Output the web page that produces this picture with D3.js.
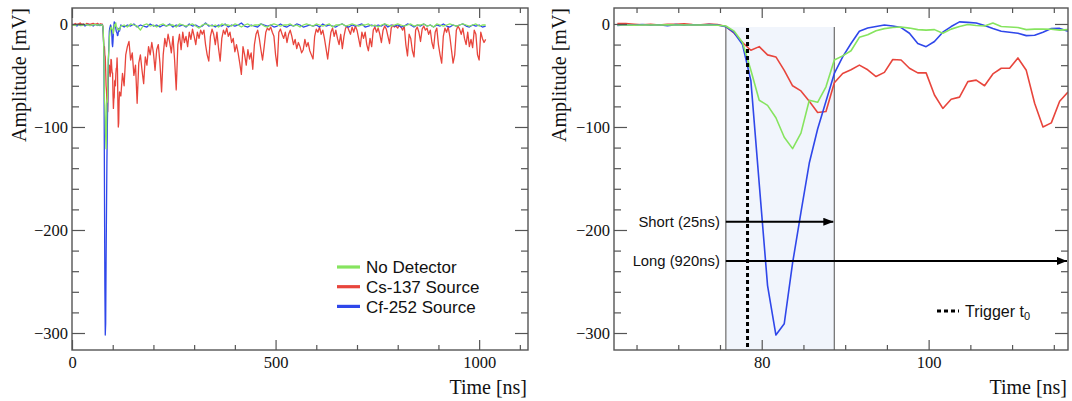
<!DOCTYPE html>
<html>
<head>
<meta charset="utf-8">
<script src="https://cdn.jsdelivr.net/npm/d3@7"></script>
<style>
  html, body { margin: 0; padding: 0; background: #fff; }
  svg { display: block; }
  .tick text { font-family: "Liberation Serif", "Times New Roman", serif; font-size: 16.5px; fill: #111; }
  .tick line { stroke: #555; stroke-width: 1.2; }
</style>
</head>
<body>
<svg id="chart" width="1072" height="401"></svg>
<script>
(function (d3) {
    'use strict';

    // series names / colours (legend order)
    var seriesNames = ['No Detector', 'Cs-137 Source', 'Cf-252 Source'];
    var seriesColors = ['#86e45f', '#e8453c', '#2f47ea'];

    // coarse baseline before the pulse, 0..60 ns, 4 ns step
    var preStep = 4;
    var greenPre = [-1, -1, -1.5, -0.5, -1, -1, -1.5, -1, -0.5, -1, -1, -1.5, -1, -1, -0.5, -1];
    var redPre   = [0, -1, 0.5, -0.5, 0, 1, -0.5, 0, -1, 0.5, 0, -0.5, 0, 0.5, -0.3, 0];
    var bluePre  = [-1.5, -0.5, -1, -2, -0.5, -1.5, -1, -0.5, -2, -1, -0.5, -1.5, -1, -2, -0.5, -1];

    // 1 ns samples around the pulse, 62.7..116.7 ns (right panel)
    var detailStart = 62.7;
    var greenDetail = [-1, -1, -1.2, -1, -1, -1, -0.8, -1, -1, -1, -1, -1, -1.2,
        -2, -7, -18, -45, -74, -79, -91, -110, -121, -106, -74, -76, -61, -35, -31, -26,
        -13, -10.5, -6.5, -4.5, -3.5, -3, -4, -5.5, -6, -5.5, -9, -5, -2.5, -0.5, -1.5,
        -2, 1, -2.5, -3, -3.5, -5.5, -5, -5, -5.2, -6, -5.5];
    var redDetail = [0.5, 0.3, -0.3, -0.8, -0.2, -1, -0.4, -0.3, 0.2, -0.6, -0.8, 0, -0.5,
        -2.5, -9, -18, -25.5, -22, -30, -32, -45, -60, -65, -75, -86, -85, -57, -48, -44.5,
        -40, -44.5, -51, -47, -34.5, -35, -43, -47.5, -47.5, -69, -82, -73, -71, -56, -54.5,
        -60, -48.5, -43, -43, -33, -45, -77, -100, -96, -75, -66];
    var blueDetail = [-1.5, -0.8, -1.2, -0.5, -1.3, -0.7, -1.6, -0.6, -1.2, -0.8, -1, -0.6, -1,
        -2.6, -8.5, -20, -55, -155, -254, -302, -291, -232, -183, -135, -102, -75, -48, -32, -19,
        -7, -4, -2.5, -1, -2, -3.5, -9, -19, -22, -17, -8, -2.5, 2, 1.5, 1, -1.5, -4.5, -7,
        -8, -9, -11.3, -11, -8, -4.5, -4.3, -7];

    // long tail, 120..1016 ns
    var tailStart = 120;
    var redTailStep = 4;
    var redTail = [
        -70, -48, -60, -30, -22, -17, -35, -28, -50, -40, -77, -38, -30, -45, -58, -32, -40, -22, -30, -18, -28, -45, -25, -20, -38,
        -66, -30, -14, -22, -10, -18, -28, -12, -35, -64, -20, -10, -25, -8, -18, -12, -22, -8, -15, -5, -12, -20, -8, -14, -6,
        -10, -6, -20, -30, -36, -12, -5, -10, -20, -8, -24, -36, -14, -6, -10, -4, -12, -8, -18, -14, -27, -20, -28, -38, -49,
        -22, -30, -40, -25, -34, -28, -44, -20, -10, -6, -14, -25, -35, -22, -8, -4, -6, -3, -8, -12, -30, -41, -8, -5, -10,
        -14, -8, -18, -10, -6, -12, -20, -15, -24, -18, -22, -28, -25, -15, -22, -18, -26, -30, -34, -12, -5, -8, -3, -10, -6,
        -14, -24, -34, -20, -8, -4, -12, -6, -14, -20, -10, -24, -12, -4, -2, -6, -10, -3, -8, -2, -6, -14, -22, -8, -14,
        -8, -20, -26, -14, -22, -6, -3, -8, -4, -10, -18, -6, -2, -5, -12, -19, -4, -1, -3, -2, -4, -1, -3, -6, -2,
        -20, -31, -10, -14, -26, -32, -6, -3, -8, -17, -5, -2, -6, -4, -10, -6, -18, -24, -8, -4, -20, -30, -38, -12, -4,
        -8, -3, -12, -25, -38, -30, -6, -2, -5, -10, -4, -14, -20, -8, -22, -15, -23, -6, -10, -30, -35, -8, -14, -18, -15
    ];
    var flatTailStep = 8;
    var greenTail = [
        -2, -1, -3, 0, -1, -2, -6, -1, 0, -2, -1, -3, -1, 0, -2, -1, -1, -3, 0, -1,
        -2, -1, 0, -2, -4, -1, 0, -1, -2, -1, -3, 0, -1, -1, -2, 0, -1, -3, -1, 0,
        -2, -1, -1, 0, -2, -3, -1, 0, -1, -2, -1, -1, 0, -2, -1, -3, -1, 0, -1, -2,
        0, -1, -2, -1, 0, -3, -1, -1, 0, -2, -1, 0, -1, -2, -1, -1, 0, -2, -1, -3,
        -1, 0, -1, -2, -1, 0, -1, -2, -1, 0, -2, -1, -1, 0, -2, -1, -3, 0, -1, -2,
        -1, 0, -1, -2, -1, 0, -1, -2, -1, 0, -2, -1, -1
    ];
    var blueTail = [
        -1, -3, -1, -2, 0, -3, -1, -2, -3, 0, -2, -1, -3, -1, -2, 0, -3, -1, -2, -1,
        -3, 0, -2, -1, -3, -2, 1, -2, -1, -3, -1, -2, 0, -3, -1, -2, -1, 1, -2, -3,
        -1, -2, -3, 0, -1, -2, -1, -3, -2, 0, -2, -3, -1, -2, 0, -1, -3, -2, -1, -2,
        -1, -3, 0, -2, -1, -2, -3, -1, 0, -2, -3, -1, -2, -1, 0, -3, -2, -1, -2, -1,
        -2, 0, -3, -1, -2, -1, -3, -2, 0, -1, -3, -1, -2, 0, -2, -1, -3, -1, -2, 0,
        -2, -3, -1, -2, -1, 0, -2, -3, -1, -2, -1, -3, -2
    ];

    // axis ticks
    var yMajor = [0, -100, -200, -300];
    var yMinor = [-20, -40, -60, -80, -120, -140, -160, -180, -220, -240, -260, -280];
    var xLeftMajor = [0, 500, 1000];
    var xLeftMinor = [100, 200, 300, 400, 600, 700, 800, 900, 1100];
    var xRightMajor = [80, 100];
    var xRightMinor = [65, 70, 75, 85, 90, 95, 105, 110, 115];

    // integration windows / trigger
    var gateStart = 75.7, shortEnd = 88.7, longEnd = 116.7, triggerT = 78.3;
    var shortLevel = -192, longLevel = -230;

    function buildSeries(pre, detail, tail, tailStep) {
        var pts = [];
        pre.forEach(function (v, i) { pts.push([i * preStep, v]); });
        detail.forEach(function (v, i) { pts.push([detailStart + i, v]); });
        tail.forEach(function (v, i) { pts.push([tailStart + i * tailStep, v]); });
        return pts;
    }
    function detailSeries(detail) {
        return detail.map(function (v, i) { return [detailStart + i, v]; });
    }

    var wide = [
        buildSeries(greenPre, greenDetail, greenTail, flatTailStep),
        buildSeries(redPre, redDetail, redTail, redTailStep),
        buildSeries(bluePre, blueDetail, blueTail, flatTailStep)
    ];
    var zoomed = [detailSeries(greenDetail), detailSeries(redDetail), detailSeries(blueDetail)];
    var drawOrder = [1, 2, 0];

    var svg = d3.select('#chart');
    var top = 8, bottom = 350;
    var y = d3.scaleLinear().domain([-316.5, 15.5]).range([bottom, top]);
    var xL = d3.scaleLinear().domain([0, 1120]).range([72, 528]);
    var xR = d3.scaleLinear().domain([62.3, 116.7]).range([614, 1068]);

    var defs = svg.append('defs');
    defs.append('marker')
        .attr('id', 'arrowhead')
        .attr('viewBox', '0 0 10 8')
        .attr('refX', 10).attr('refY', 4)
        .attr('markerWidth', 10).attr('markerHeight', 8)
        .attr('markerUnits', 'userSpaceOnUse')
        .attr('orient', 'auto')
        .append('path').attr('d', 'M0,0 L10,4 L0,8 Z').attr('fill', '#000');

    function drawAxes(x, xMajor, xMinor, titleYx) {
        var g = svg.append('g');
        var x0 = x.range()[0], x1 = x.range()[1];

        // bottom + top ticks (inward)
        g.append('g').attr('transform', 'translate(0,' + bottom + ')')
            .call(d3.axisBottom(x).tickValues(xMinor).tickSize(-5).tickFormat(''));
        g.append('g').attr('transform', 'translate(0,' + bottom + ')')
            .call(d3.axisBottom(x).tickValues(xMajor).tickSize(-10).tickPadding(6).tickFormat(d3.format('d')));
        g.append('g').attr('transform', 'translate(0,' + top + ')')
            .call(d3.axisTop(x).tickValues(xMinor).tickSize(-5).tickFormat(''));
        g.append('g').attr('transform', 'translate(0,' + top + ')')
            .call(d3.axisTop(x).tickValues(xMajor).tickSize(-10).tickFormat(''));

        // left + right ticks (inward)
        g.append('g').attr('transform', 'translate(' + x0 + ',0)')
            .call(d3.axisLeft(y).tickValues(yMinor).tickSize(-7).tickFormat(''));
        g.append('g').attr('transform', 'translate(' + x0 + ',0)')
            .call(d3.axisLeft(y).tickValues(yMajor).tickSize(-13).tickPadding(4).tickFormat(d3.format('d')));
        g.append('g').attr('transform', 'translate(' + x1 + ',0)')
            .call(d3.axisRight(y).tickValues(yMinor).tickSize(-7).tickFormat(''));
        g.append('g').attr('transform', 'translate(' + x1 + ',0)')
            .call(d3.axisRight(y).tickValues(yMajor).tickSize(-13).tickFormat(''));

        g.selectAll('.domain').remove();

        g.append('rect')
            .attr('x', x0).attr('y', top)
            .attr('width', x1 - x0).attr('height', bottom - top)
            .attr('fill', 'none').attr('stroke', '#555').attr('stroke-width', 1.4);

        g.append('text')
            .attr('x', x1 - 1).attr('y', 394)
            .attr('text-anchor', 'end')
            .style('font-family', '"Liberation Serif", "Times New Roman", serif')
            .style('font-size', '20px').style('fill', '#111')
            .text('Time [ns]');

        g.append('text')
            .attr('transform', 'translate(' + titleYx + ',' + top + ') rotate(-90)')
            .attr('text-anchor', 'end')
            .style('font-family', '"Liberation Serif", "Times New Roman", serif')
            .style('font-size', '20px').style('fill', '#111')
            .text('Amplitude [mV]');
    }

    function clip(id, x) {
        defs.append('clipPath').attr('id', id)
            .append('rect')
            .attr('x', x.range()[0]).attr('y', top)
            .attr('width', x.range()[1] - x.range()[0]).attr('height', bottom - top);
    }
    clip('clipL', xL);
    clip('clipR', xR);

    // ---- left panel ----
    var lineL = d3.line().x(function (d) { return xL(d[0]); }).y(function (d) { return y(d[1]); });
    var gL = svg.append('g').attr('clip-path', 'url(#clipL)');
    drawOrder.forEach(function (k) {
        gL.append('path').datum(wide[k])
            .attr('fill', 'none')
            .attr('stroke', seriesColors[k])
            .attr('stroke-width', 1.3)
            .attr('stroke-linejoin', 'round')
            .attr('d', lineL);
    });
    drawAxes(xL, xLeftMajor, xLeftMinor, 26);

    // legend
    var legend = svg.append('g');
    seriesNames.forEach(function (name, i) {
        var ly = 267 + i * 19.7;
        legend.append('line')
            .attr('x1', 337).attr('x2', 360).attr('y1', ly).attr('y2', ly)
            .attr('stroke', seriesColors[i]).attr('stroke-width', 3.2);
        legend.append('text')
            .attr('x', 366).attr('y', ly).attr('dy', '0.36em')
            .style('font-family', '"Liberation Sans", Arial, sans-serif')
            .style('font-size', '17px').style('fill', '#111')
            .text(name);
    });

    // ---- right panel ----
    var gR = svg.append('g').attr('clip-path', 'url(#clipR)');
    gR.append('rect')
        .attr('x', xR(gateStart)).attr('y', y(-3))
        .attr('width', xR(shortEnd) - xR(gateStart))
        .attr('height', bottom - y(-3))
        .attr('fill', '#f1f5fc');
    [gateStart, shortEnd].forEach(function (t) {
        gR.append('line')
            .attr('x1', xR(t)).attr('x2', xR(t))
            .attr('y1', y(-3)).attr('y2', bottom)
            .attr('stroke', '#777').attr('stroke-width', 1.3);
    });

    var lineR = d3.line().x(function (d) { return xR(d[0]); }).y(function (d) { return y(d[1]); });
    drawOrder.forEach(function (k) {
        gR.append('path').datum(zoomed[k])
            .attr('fill', 'none')
            .attr('stroke', seriesColors[k])
            .attr('stroke-width', 1.6)
            .attr('stroke-linejoin', 'round')
            .attr('d', lineR);
    });

    gR.append('line')
        .attr('x1', xR(triggerT)).attr('x2', xR(triggerT))
        .attr('y1', y(-4)).attr('y2', bottom)
        .attr('stroke', '#000').attr('stroke-width', 3)
        .attr('stroke-dasharray', '4,3');

    var ann = svg.append('g');
    [[shortLevel, shortEnd, 'Short (25ns)'], [longLevel, longEnd, 'Long (920ns)']].forEach(function (a) {
        ann.append('line')
            .attr('x1', xR(gateStart)).attr('x2', xR(a[1]) - 1)
            .attr('y1', y(a[0])).attr('y2', y(a[0]))
            .attr('stroke', '#000').attr('stroke-width', 2)
            .attr('marker-end', 'url(#arrowhead)');
        ann.append('text')
            .attr('x', xR(gateStart) - 6).attr('y', y(a[0])).attr('dy', '0.35em')
            .attr('text-anchor', 'end')
            .style('font-family', '"Liberation Sans", Arial, sans-serif')
            .style('font-size', '14.8px').style('fill', '#111')
            .text(a[2]);
    });

    ann.append('line')
        .attr('x1', 937).attr('x2', 959).attr('y1', 311).attr('y2', 311)
        .attr('stroke', '#000').attr('stroke-width', 3)
        .attr('stroke-dasharray', '4,3');
    var trig = ann.append('text')
        .attr('x', 965).attr('y', 311).attr('dy', '0.35em')
        .style('font-family', '"Liberation Sans", Arial, sans-serif')
        .style('font-size', '16px').style('fill', '#111');
    trig.append('tspan').text('Trigger t');
    trig.append('tspan').attr('dy', '3').style('font-size', '11px').text('0');

    drawAxes(xR, xRightMajor, xRightMinor, 566);
})(d3);
</script>
</body>
</html>
